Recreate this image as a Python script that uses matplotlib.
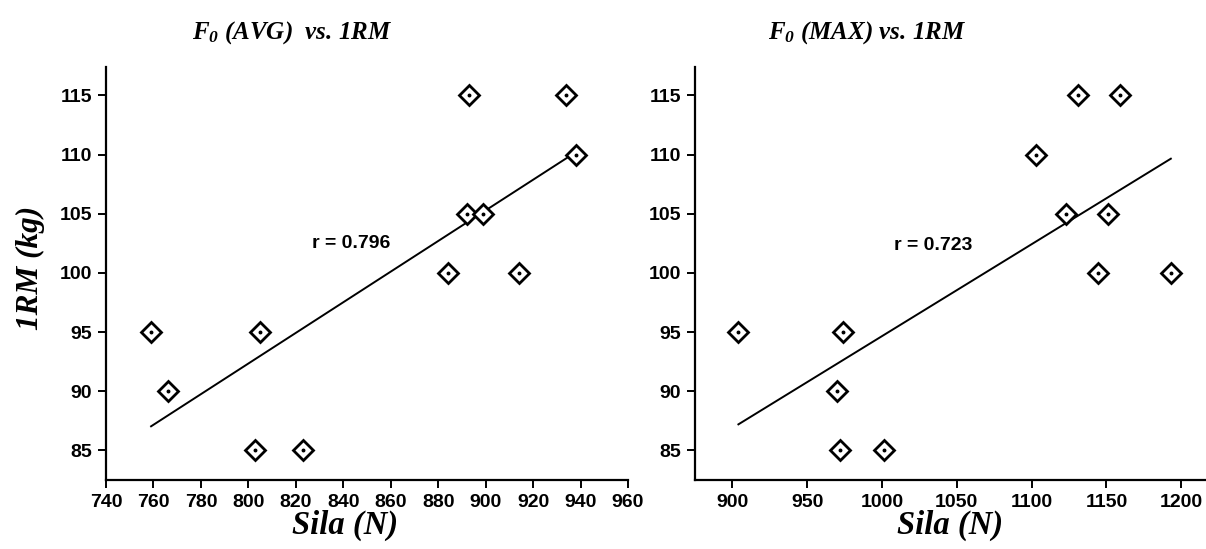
import numpy as np
import matplotlib
matplotlib.use('Agg')
import matplotlib.pyplot as plt

plt.rcParams['font.family'] = 'Liberation Sans'
plt.rcParams['font.weight'] = 'bold'
plt.rcParams['mathtext.fontset'] = 'custom'
plt.rcParams['mathtext.rm'] = 'Liberation Serif:bold:italic'
plt.rcParams['mathtext.it'] = 'Liberation Serif:bold:italic'
plt.rcParams['mathtext.bf'] = 'Liberation Serif:bold:italic'

# F0 (AVG) vs 1RM
avg_sila = [759, 766, 803, 805, 823, 884, 892, 893, 899, 914, 934, 938]
avg_rm = [95, 90, 85, 95, 85, 100, 105, 115, 105, 100, 115, 110]

# F0 (MAX) vs 1RM
max_sila = [904, 970, 972, 974, 1001, 1103, 1123, 1131, 1144, 1151, 1159, 1193]
max_rm = [95, 90, 85, 95, 85, 110, 105, 115, 100, 105, 115, 100]

titles = [r'$F_0$ (AVG)  vs. 1RM', r'$F_0$ (MAX) vs. 1RM']
y_ticks = [85, 90, 95, 100, 105, 110, 115]
x_ticks_avg = list(range(740, 961, 20))
x_ticks_max = [900, 950, 1000, 1050, 1100, 1150, 1200]

W, H = 1206, 549
fig = plt.figure(figsize=(W / 100, H / 100), dpi=100)

serif = 'Liberation Serif'


def make_panel(rect, xs, ys, xlim, xticks, title, title_x, r_pos, xlabel_x):
    ax = fig.add_axes(rect)
    xs = np.array(xs, dtype=float)
    ys = np.array(ys, dtype=float)
    # regression line over the data range
    k, b = np.polyfit(xs, ys, 1)
    xl = np.array([xs.min(), xs.max()])
    ax.plot(xl, k * xl + b, color='black', lw=1.4, zorder=2)
    ax.plot(xs, ys, ls='none', marker='D', ms=10.5, mfc='white', mec='black',
            mew=2.0, zorder=3)
    ax.plot(xs, ys, ls='none', marker='o', ms=1.8, color='black', zorder=4)
    r = np.corrcoef(xs, ys)[0, 1]
    ax.text(r_pos[0], r_pos[1], 'r = %.3f' % r, ha='center', va='center',
            fontsize=14, fontweight='bold')

    ax.set_xlim(*xlim)
    ax.set_ylim(82.5, 117.4)
    ax.set_xticks(xticks)
    ax.set_yticks(y_ticks)
    for s in ['top', 'right']:
        ax.spines[s].set_visible(False)
    for s in ['left', 'bottom']:
        ax.spines[s].set_linewidth(1.6)
    ax.tick_params(direction='out', length=6, width=1.4, pad=4, labelsize=14)

    fig.text(xlabel_x / W, 1 - 525 / H, 'Sila (N)', ha='center', va='center',
             family=serif, fontsize=23.5, fontweight='bold', style='italic')
    fig.text(title_x / W, 1 - 33 / H, title, ha='center', va='center',
             family=serif, fontsize=18, fontweight='bold', style='italic')
    return ax


bottom = (H - 480) / H
height = (480 - 67) / H

ax1 = make_panel([106 / W, bottom, (628 - 106) / W, height], avg_sila, avg_rm,
                 (740, 960), x_ticks_avg, titles[0], 292, (843.5, 102.5), 345)
ax2 = make_panel([695 / W, bottom, (1206 - 695) / W, height], max_sila, max_rm,
                 (875, 1216.5), x_ticks_max, titles[1], 867, (1034, 102.3), 950)

fig.text(30 / W, 1 - 268 / H, '1RM (kg)', ha='center', va='center', rotation=90,
         family=serif, fontsize=22.5, fontweight='bold', style='italic')

fig.savefig('out.png', dpi=100)
